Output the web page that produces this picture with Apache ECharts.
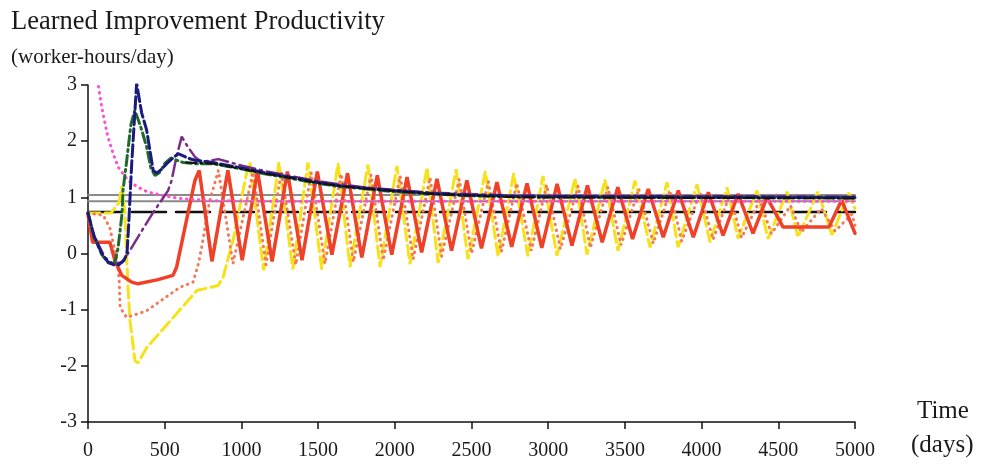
<!DOCTYPE html>
<html>
<head>
<meta charset="utf-8">
<script src="https://cdn.jsdelivr.net/npm/echarts@6/dist/echarts.min.js"></script>
<style>
  html, body { margin: 0; padding: 0; background: #fff; }
  #main { width: 982px; height: 465px; }
</style>
</head>
<body>
<div id="main"></div>
<script>
// tick labels
var xTicks = [0, 500, 1000, 1500, 2000, 2500, 3000, 3500, 4000, 4500, 5000];
var yTicks = [-3, -2, -1, 0, 1, 2, 3];

// [day, productivity]
var redSolid = [[0,0.7],[30,0.2],[143,0.2],[176,-0.13],[220,-0.39],[285,-0.51],[326,-0.54],[450,-0.47],[554,-0.39],[578,-0.24],[697,1.3],[725,1.48],
    [808,-0.14],[912,1.48],[1005,-0.12],[1105,1.47],[1200,-0.14],[1300,1.46],[1395,-0.12],[1495,1.46],[1590,-0.02],[1692,1.43],
    [1785,-0.07],[1886,1.39],[1980,-0.02],[2080,1.36],[2175,0.02],[2275,1.33],[2370,0.05],[2470,1.30],[2565,0.09],[2666,1.27],
    [2762,0.12],[2862,1.25],[2958,0.1],[3058,1.24],[3155,0.14],[3256,1.21],[3352,0.2],[3454,1.18],[3550,0.26],[3652,1.15],
    [3750,0.29],[3848,1.12],[3946,0.29],[4044,1.09],[4140,0.32],[4238,1.06],[4335,0.36],[4426,1.0],[4531,0.47],[4830,0.47],
    [4913,0.95],[5000,0.36]];

var yellowDash = [[0,0.72],[150,0.72],[200,0.9],[222,1.2],[241,0.71],[252,-0.07],[262,-0.66],[274,-1.2],[306,-1.91],[325,-1.95],
    [382,-1.68],[709,-0.66],[848,-0.57],[880,-0.43],[945,0.23],[1034,1.43],[1056,1.62],[1145,-0.3],[1245,1.62],[1335,-0.28],
    [1434,1.62],[1523,-0.27],[1630,1.6],[1708,-0.24],[1825,1.58],[1904,-0.24],[2014,1.56],[2099,-0.19],[2210,1.53],[2282,-0.17],
    [2400,1.5],[2477,-0.1],[2590,1.46],[2673,-0.05],[2775,1.42],[2868,-0.05],[2966,1.38],[3057,-0.04],[3175,1.34],[3253,-0.02],
    [3370,1.31],[3455,0.05],[3566,1.3],[3664,0.11],[3775,1.27],[3846,0.11],[3970,1.23],[4055,0.2],[4166,1.18],[4237,0.27],
    [4361,1.12],[4433,0.26],[4557,1.1],[4628,0.29],[4759,1.1],[4850,0.33],[4960,1.08],[5000,0.8]];

var orangeDots = [[0,0.72],[100,0.68],[143,0.45],[165,0.18],[187,-0.07],[197,-0.3],[203,-0.48],[209,-0.96],[252,-1.14],[382,-1.02],
    [600,-0.6],[685,-0.51],[720,-0.18],[741,0.11],[790,0.9],[850,1.48],[945,-0.18],[1076,1.45],[1160,-0.2],[1260,1.45],[1355,-0.2],
    [1455,1.44],[1545,-0.18],[1650,1.42],[1730,-0.15],[1845,1.4],[1925,-0.12],[2035,1.38],[2120,-0.1],[2230,1.35],[2305,-0.05],
    [2420,1.32],[2500,0],[2610,1.28],[2695,0.03],[2795,1.25],[2890,0.05],[2990,1.22],[3080,0.08],[3195,1.2],[3275,0.1],
    [3390,1.18],[3475,0.15],[3590,1.15],[3685,0.18],[3795,1.12],[3870,0.22],[3990,1.08],[4075,0.25],[4185,1.05],[4260,0.28],
    [4380,0.95],[4455,0.35],[4580,0.85],[4650,0.38],[4780,0.8],[4870,0.4],[4980,0.7],[5000,0.5]];

var pinkDots = [[40,3.5],[65,3.03],[89,2.61],[111,2.32],[130,2.07],[163,1.79],[196,1.54],[261,1.3],[326,1.18],[385,1.1],
    [489,1.03],[600,0.98],[800,0.94],[1200,0.93],[5000,0.93]];

var navyHead = [[0,0.72],[40,0.3],[90,0.0],[130,-0.15],[165,-0.2],[200,-0.2],[235,-0.12],[254,0.0],[265,0.5],[285,1.6],[317,3.03],
    [350,2.5],[382,2.2],[425,1.48],[448,1.43],[480,1.5],[513,1.6],[587,1.78],[650,1.7],[697,1.66]];
var greenHead = [[0,0.72],[40,0.3],[90,-0.02],[130,-0.16],[163,-0.2],[180,-0.1],[196,0.1],[222,0.71],[228,1.12],[250,1.6],
    [280,2.3],[305,2.55],[325,2.4],[350,2.2],[382,1.9],[410,1.52],[437,1.39],[470,1.45],[500,1.6],[540,1.7],[620,1.62],[700,1.6]];
var purpleHead = [[0,0.73],[25,0.45],[45,0.29],[110,-0.07],[163,-0.18],[220,-0.16],[261,0.0],[352,0.41],[420,0.71],[522,1.12],
    [545,1.3],[575,1.7],[611,2.08],[650,1.9],[697,1.72],[740,1.63]];

var navyTail = [[815,1.62],[1010,1.52],[1167,1.43],[1317,1.36],[1512,1.26],[1650,1.2],[1818,1.16],[2000,1.12],[2250,1.07],
    [2470,1.04],[2800,1.02],[3500,1.01],[5000,1.0]];
var greenTail = [[815,1.6],[1010,1.5],[1167,1.41],[1317,1.34],[1512,1.24],[1650,1.19],[1818,1.15],[2000,1.1],[2250,1.06],
    [2470,1.03],[2800,1.01],[3500,1.0],[5000,0.99]];
var purpleTail = [[850,1.68],[1010,1.56],[1167,1.46],[1317,1.38],[1512,1.28],[1818,1.17],[2250,1.08],[2800,1.03],[5000,1.01]];
var blackDashDot = [[640,1.62],[815,1.6],[1167,1.42],[1512,1.25],[1818,1.15],[2250,1.06],[2800,1.0],[5000,0.98]];

var grayHigh = [[0,1.04],[5000,1.04]];
var grayLow = [[0,0.93],[5000,0.93]];
var blackDash = [[0,0.74],[5000,0.74]];

var serif = 'Liberation Serif';

function line(data, color, width, type, z) {
    return {
        type: 'line',
        data: data,
        symbol: 'none',
        z: z,
        clip: true,
        lineStyle: { color: color, width: width, type: type, cap: 'round' }
    };
}

var chart = echarts.init(document.getElementById('main'));
chart.setOption({
    animation: false,
    title: [{
        text: 'Learned Improvement Productivity',
        left: 6, top: 4,
        textStyle: { fontFamily: serif, fontSize: 26.5, fontWeight: 'normal', color: '#1a1a1a' }
    }, {
        text: '(worker-hours/day)',
        left: 6, top: 42,
        textStyle: { fontFamily: serif, fontSize: 21, fontWeight: 'normal', color: '#1a1a1a' }
    }],
    // x axis name, placed by hand to the right of the axis end
    graphic: [{
        type: 'text', left: 917, top: 399,
        style: { text: 'Time', font: '25px "Liberation Serif"', fill: '#1a1a1a' }
    }, {
        type: 'text', left: 911, top: 433,
        style: { text: '(days)', font: '25px "Liberation Serif"', fill: '#1a1a1a' }
    }],
    grid: { left: 88, right: 127, top: 85, bottom: 43 },
    xAxis: {
        type: 'value', min: 0, max: 5000, interval: 500,
        axisLine: { onZero: false, lineStyle: { color: '#111', width: 1.5 } },
        axisTick: { show: true, length: 7, lineStyle: { color: '#111', width: 1.5 } },
        axisLabel: {
            fontFamily: serif, fontSize: 20, color: '#1a1a1a', margin: 19,
            formatter: function (v) { return xTicks.indexOf(v) >= 0 ? String(v) : ''; }
        },
        splitLine: { show: false }
    },
    yAxis: {
        type: 'value', min: -3, max: 3, interval: 1,
        axisLine: { show: true, lineStyle: { color: '#111', width: 1.5 } },
        axisTick: { show: true, length: 7, lineStyle: { color: '#111', width: 1.5 } },
        axisLabel: {
            fontFamily: serif, fontSize: 20, color: '#1a1a1a', margin: 11,
            formatter: function (v) { return yTicks.indexOf(v) >= 0 ? String(v) : ''; }
        },
        splitLine: { show: false }
    },
    series: [
        line(grayHigh, '#8a8a8a', 2, 'solid', 1),
        line(grayLow, '#8a8a8a', 2, 'solid', 1),
        line(blackDash, '#111111', 2.5, [34, 10], 2),
        line(yellowDash, '#f6e21a', 3, [12, 5], 3),
        line(orangeDots, '#f27a58', 3, [0.5, 5.5], 4),
        line(redSolid, '#ee4128', 3.5, 'solid', 5),
        line(pinkDots, '#ff4fd2', 3, [0.5, 5.5], 6),
        line(purpleHead.concat(purpleTail), '#7a2d88', 2.5, [16, 5, 2, 5], 7),
        line(greenHead.concat(greenTail), '#1f6b2c', 3, [10, 4, 2, 4], 8),
        line(navyHead.concat(navyTail), '#1b1b7e', 3, [12, 4], 9),
        line(blackDashDot, '#111111', 2, [10, 4, 2, 4], 10)
    ]
});
</script>
</body>
</html>
